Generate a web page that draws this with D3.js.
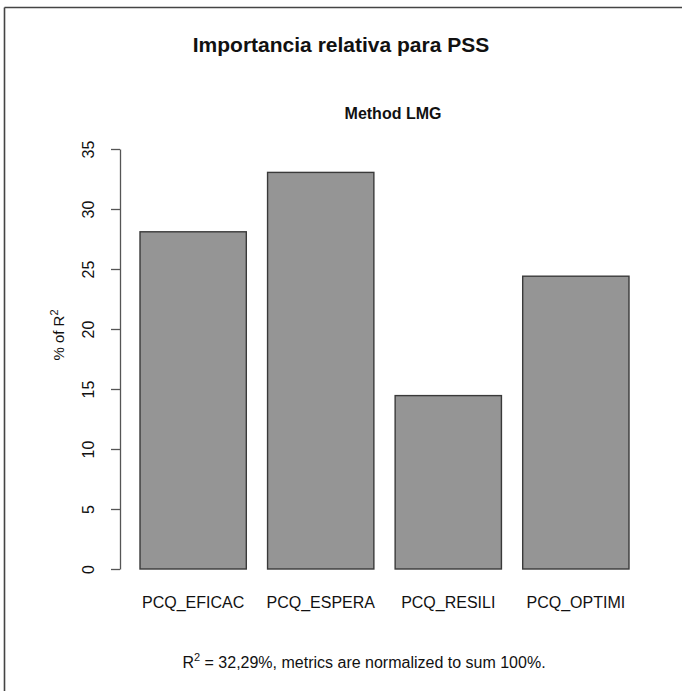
<!DOCTYPE html>
<html>
<head>
<meta charset="utf-8">
<script src="https://cdn.jsdelivr.net/npm/d3@7"></script>
<style>
  body { margin: 0; background: #fff; }
  text { font-family: "Liberation Sans", Arial, sans-serif; fill: #111; }
</style>
</head>
<body>
<div id="chart"></div>
<script>
// data
var categories = ["PCQ_EFICAC", "PCQ_ESPERA", "PCQ_RESILI", "PCQ_OPTIMI"];
var values = [28.1, 33.05, 14.45, 24.4];
var yTicks = [0, 5, 10, 15, 20, 25, 30, 35];
var title = "Importancia relativa para PSS";
var subtitle = "Method LMG";

var W = 682, H = 691;
var svg = d3.select("#chart").append("svg")
  .attr("width", W)
  .attr("height", H);

svg.append("rect").attr("width", W).attr("height", H).attr("fill", "#fff");

// frame (top + left edge of the original figure)
svg.append("line")
  .attr("x1", 4.5).attr("x2", W).attr("y1", 7.5).attr("y2", 7.5)
  .attr("stroke", "#444").attr("stroke-width", 1.6);
svg.append("line")
  .attr("x1", 4.5).attr("x2", 4.5).attr("y1", 7.5).attr("y2", H)
  .attr("stroke", "#444").attr("stroke-width", 1.6);

var plotLeft = 120;
// R barplot layout: bars at 0.2..1.2, 1.4..2.4, ...
var x = d3.scaleLinear().domain([0.2, 4.8]).range([140, 629]);
var y = d3.scaleLinear().domain([0, 35]).range([569, 149]);

// bars
svg.selectAll("rect.bar")
  .data(values)
  .enter().append("rect")
    .attr("class", "bar")
    .attr("x", function(d, i) { return x(0.2 + i * 1.2); })
    .attr("width", function(d, i) { return x(1.2 + i * 1.2) - x(0.2 + i * 1.2); })
    .attr("y", function(d) { return y(d); })
    .attr("height", function(d) { return y(0) - y(d); })
    .attr("fill", "#959595")
    .attr("stroke", "#3a3a3a")
    .attr("stroke-width", 1.4);

// y axis
var yAxis = svg.append("g")
  .attr("transform", "translate(" + plotLeft + ",0)")
  .call(d3.axisLeft(y).tickValues(yTicks).tickSize(9).tickSizeOuter(0));
yAxis.select(".domain").attr("stroke", "#555").attr("stroke-width", 1.3);
yAxis.selectAll(".tick line").attr("stroke", "#555").attr("stroke-width", 1.3);
yAxis.selectAll(".tick text")
  .attr("font-size", 16)
  .attr("font-family", "Liberation Sans, Arial, sans-serif")
  .attr("fill", "#111")
  .attr("text-anchor", "middle")
  .attr("x", 0)
  .attr("dy", null)
  .attr("transform", "translate(-30,0) rotate(-90)")
  .attr("dominant-baseline", "middle");

// category labels
svg.selectAll("text.cat")
  .data(categories)
  .enter().append("text")
    .attr("class", "cat")
    .attr("x", function(d, i) { return x(0.7 + i * 1.2); })
    .attr("y", 608)
    .attr("text-anchor", "middle")
    .attr("font-size", 16)
    .text(function(d) { return d; });

// y axis title
var yt = svg.append("text")
  .attr("transform", "translate(64,335) rotate(-90)")
  .attr("text-anchor", "middle")
  .attr("font-size", 15);
yt.append("tspan").text("% of R");
yt.append("tspan").attr("font-size", 11).attr("dy", -6).text("2");

// titles
svg.append("text")
  .attr("x", 341).attr("y", 52)
  .attr("text-anchor", "middle")
  .attr("font-size", 21)
  .attr("font-weight", "bold")
  .text(title);

svg.append("text")
  .attr("x", 393).attr("y", 119)
  .attr("text-anchor", "middle")
  .attr("font-size", 16)
  .attr("font-weight", "bold")
  .text(subtitle);

// footnote
var ft = svg.append("text")
  .attr("x", 364).attr("y", 668)
  .attr("text-anchor", "middle")
  .attr("font-size", 16);
ft.append("tspan").text("R");
ft.append("tspan").attr("font-size", 11).attr("dy", -7).text("2");
ft.append("tspan").attr("dy", 7).text(" = 32,29%, metrics are normalized to sum 100%.");
</script>
</body>
</html>
